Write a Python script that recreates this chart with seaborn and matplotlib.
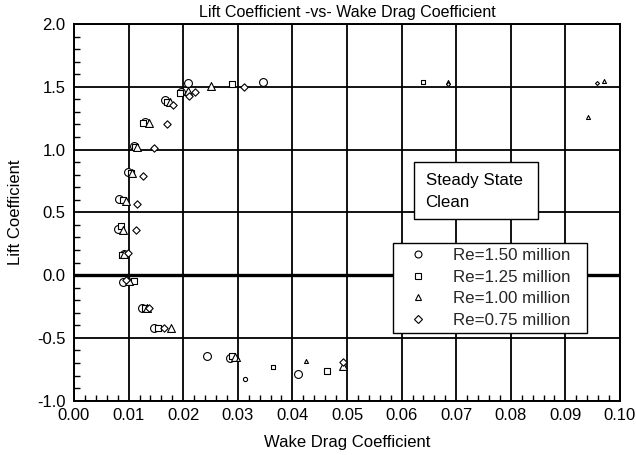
import matplotlib
matplotlib.use("Agg")
import matplotlib.pyplot as plt
from matplotlib.lines import Line2D
from matplotlib.patches import Rectangle
from matplotlib.ticker import MultipleLocator, FormatStrFormatter
import seaborn as sns
import pandas as pd

# ---------------- data ----------------
series_names = ["Re=1.50 million", "Re=1.25 million", "Re=1.00 million", "Re=0.75 million"]

re150_cd = [0.0081, 0.0092, 0.0090, 0.0124, 0.0147, 0.0244, 0.0286, 0.0411,
            0.0082, 0.00995, 0.0109, 0.0130, 0.0167, 0.0196, 0.0209, 0.0347]
re150_cl = [0.37, 0.17, -0.057, -0.265, -0.425, -0.647, -0.657, -0.785,
            0.61, 0.822, 1.028, 1.223, 1.396, 1.46, 1.534, 1.537]

re125_cd = [0.0086, 0.0087, 0.0109, 0.0130, 0.0153, 0.0289, 0.0463,
            0.0090, 0.0104, 0.0112, 0.0126, 0.0171, 0.0195, 0.0290]
re125_cl = [0.39, 0.164, -0.05, -0.265, -0.425, -0.641, -0.76,
            0.596, 0.815, 1.018, 1.215, 1.38, 1.454, 1.52]

re100_cd = [0.0090, 0.0091, 0.0101, 0.0134, 0.0177, 0.0295, 0.0493,
            0.0095, 0.0107, 0.0116, 0.0137, 0.0175, 0.0208, 0.0250]
re100_cl = [0.36, 0.17, -0.044, -0.258, -0.42, -0.652, -0.724,
            0.59, 0.81, 1.018, 1.21, 1.375, 1.47, 1.51]

re075_cd = [0.0114, 0.0099, 0.0095, 0.0138, 0.0165, 0.0493,
            0.0116, 0.0126, 0.0147, 0.0170, 0.0181, 0.0211, 0.0222, 0.0311]
re075_cl = [0.362, 0.175, -0.04, -0.262, -0.425, -0.69,
            0.57, 0.788, 1.01, 1.20, 1.356, 1.43, 1.458, 1.50]

# sparse points far out in the drag bucket (drawn with small symbols)
tail_series = ["Re=1.50 million", "Re=1.25 million", "Re=1.25 million",
               "Re=1.00 million", "Re=1.00 million", "Re=1.00 million", "Re=1.00 million",
               "Re=1.00 million", "Re=0.75 million", "Re=0.75 million"]
tail_cd = [0.0313, 0.0364, 0.0640, 0.0301, 0.0424, 0.0685, 0.0942, 0.0971, 0.0685, 0.0958]
tail_cl = [-0.83, -0.73, 1.537, -0.666, -0.684, 1.535, 1.262, 1.55, 1.522, 1.53]

note_lines = ["Steady State", "Clean"]
title = "Lift Coefficient -vs- Wake Drag Coefficient"
xlabel = "Wake Drag Coefficient"
ylabel = "Lift Coefficient"

# ---------------- build tables ----------------
frames = []
for name, xs, ys in zip(series_names,
                        [re150_cd, re125_cd, re100_cd, re075_cd],
                        [re150_cl, re125_cl, re100_cl, re075_cl]):
    frames.append(pd.DataFrame({"cd": xs, "cl": ys, "series": name}))
main = pd.concat(frames, ignore_index=True)
tail = pd.DataFrame({"cd": tail_cd, "cl": tail_cl, "series": tail_series})

# ---------------- style ----------------
sns.set_theme(style="white")
plt.rcParams["font.family"] = ["Liberation Sans", "DejaVu Sans"]

markers = {series_names[0]: "o", series_names[1]: "s",
           series_names[2]: "^", series_names[3]: "D"}
big_sizes = {series_names[0]: 32, series_names[1]: 25,
             series_names[2]: 32, series_names[3]: 14}
small_sizes = {series_names[0]: 9, series_names[1]: 7,
               series_names[2]: 8, series_names[3]: 4}

fig = plt.figure(figsize=(6.36, 4.55), dpi=100)
ax = fig.add_axes([74 / 636, 1 - 400.7 / 455, 546 / 636, 376.7 / 455])

for name in series_names:
    d = main[main["series"] == name]
    sns.scatterplot(data=d, x="cd", y="cl", marker=markers[name], s=big_sizes[name],
                    color="white", edgecolor="black", linewidth=0.8, ax=ax,
                    legend=False, zorder=3)
    t = tail[tail["series"] == name]
    if len(t):
        sns.scatterplot(data=t, x="cd", y="cl", marker=markers[name], s=small_sizes[name],
                        color="white", edgecolor="black", linewidth=0.8, ax=ax,
                        legend=False, zorder=3)

ax.set_xlim(0.0, 0.10)
ax.set_ylim(-1.0, 2.0)
ax.xaxis.set_major_locator(MultipleLocator(0.01))
ax.xaxis.set_minor_locator(MultipleLocator(0.002))
ax.yaxis.set_major_locator(MultipleLocator(0.5))
ax.yaxis.set_minor_locator(MultipleLocator(0.1))
ax.xaxis.set_major_formatter(FormatStrFormatter("%.2f"))
ax.yaxis.set_major_formatter(FormatStrFormatter("%.1f"))

ax.grid(True, which="major", color="black", linewidth=1.3, zorder=1)
ax.axhline(0.0, color="black", linewidth=2.4, zorder=2)
ax.set_axisbelow(True)
ax.tick_params(which="both", direction="in", bottom=True, left=True, top=False, right=False,
               colors="black", labelsize=12)
ax.tick_params(axis="x", which="major", pad=5)
ax.tick_params(axis="y", which="major", pad=6)
ax.tick_params(which="minor", length=4, width=1.0)
ax.tick_params(which="major", length=0)
for sp in ax.spines.values():
    sp.set_color("black")
    sp.set_linewidth(1.4)

ax.set_title(title, fontsize=11.5, color="black", pad=5)
ax.set_xlabel(xlabel, fontsize=12, color="black", labelpad=9)
ax.set_ylabel(ylabel, fontsize=12, color="black", labelpad=10)

# note box
ax.add_patch(Rectangle((0.623, 0.4815), 0.226, 0.1515, transform=ax.transAxes,
                       facecolor="white", edgecolor="black", linewidth=1.0, zorder=5))
ax.text(0.644, 0.585, note_lines[0], transform=ax.transAxes, fontsize=12.2,
        color="black", va="center", ha="left", zorder=6)
ax.text(0.644, 0.527, note_lines[1], transform=ax.transAxes, fontsize=12.2,
        color="black", va="center", ha="left", zorder=6)

# legend
handles = [Line2D([], [], linestyle="none", marker=markers[n],
                  markersize=5 if n != series_names[3] else 3.8,
                  markerfacecolor="white", markeredgecolor="black", markeredgewidth=0.8)
           for n in series_names]
leg = ax.legend(handles, series_names, loc="upper left",
                bbox_to_anchor=(0.584, 0.418 - 0.3, 0.356, 0.3), mode="expand",
                frameon=True, fancybox=False, framealpha=1, edgecolor="black",
                fontsize=12.2, handlelength=2.35, handletextpad=0.9, borderpad=0.3,
                labelspacing=0.38, borderaxespad=0)
leg.get_frame().set_linewidth(1.0)
leg.set_zorder(6)

fig.savefig("out.png", dpi=100)
